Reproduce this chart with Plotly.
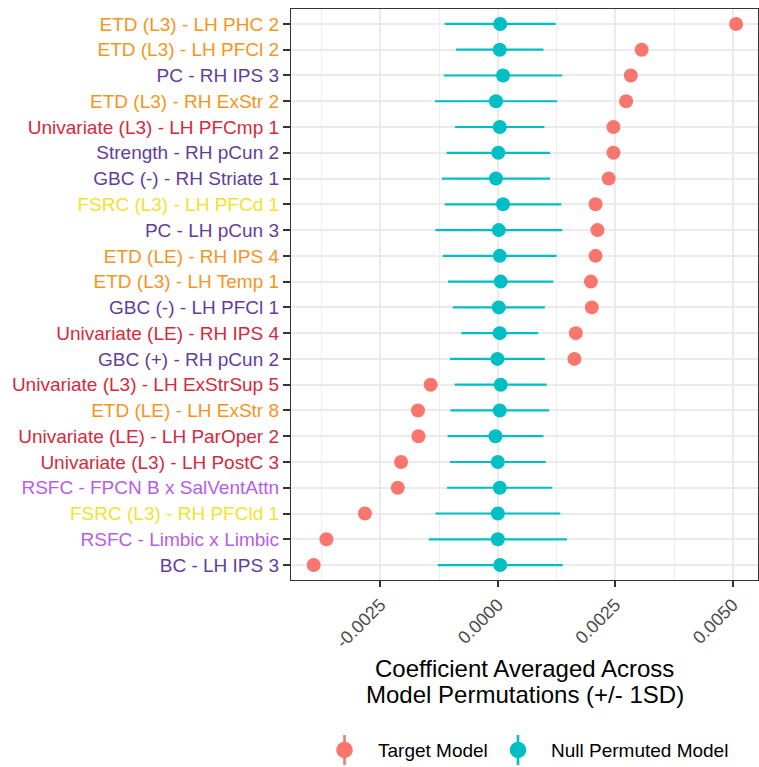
import plotly.graph_objects as go

# Features, listed top to bottom
features = [
    "ETD (L3) - LH PHC 2",
    "ETD (L3) - LH PFCl 2",
    "PC - RH IPS 3",
    "ETD (L3) - RH ExStr 2",
    "Univariate (L3) - LH PFCmp 1",
    "Strength - RH pCun 2",
    "GBC (-) - RH Striate 1",
    "FSRC (L3) - LH PFCd 1",
    "PC - LH pCun 3",
    "ETD (LE) - RH IPS 4",
    "ETD (L3) - LH Temp 1",
    "GBC (-) - LH PFCl 1",
    "Univariate (LE) - RH IPS 4",
    "GBC (+) - RH pCun 2",
    "Univariate (L3) - LH ExStrSup 5",
    "ETD (LE) - LH ExStr 8",
    "Univariate (LE) - LH ParOper 2",
    "Univariate (L3) - LH PostC 3",
    "RSFC - FPCN B x SalVentAttn",
    "FSRC (L3) - RH PFCld 1",
    "RSFC - Limbic x Limbic",
    "BC - LH IPS 3",
]

# Target model coefficients
target_coef = [
    0.00507, 0.00306, 0.00283, 0.00273, 0.00246, 0.00246, 0.00236, 0.00208,
    0.00212, 0.00208, 0.00198, 0.00200, 0.00166, 0.00163, -0.00143, -0.00170,
    -0.00169, -0.00206, -0.00213, -0.00283, -0.00365, -0.00392,
]

# Null permuted model: mean coefficient and 1 SD
null_mean = [
    0.00005, 0.00004, 0.00011, -0.00004, 0.00004, 0.00001, -0.00004, 0.00011,
    0.00002, 0.00004, 0.00006, 0.00002, 0.00004, -0.00001, 0.00006, 0.00004,
    -0.00005, 0.00000, 0.00004, 0.00000, 0.00000, 0.00005,
]
null_sd = [
    0.00118, 0.00093, 0.00126, 0.00130, 0.00095, 0.00110, 0.00115, 0.00124,
    0.00135, 0.00121, 0.00112, 0.00098, 0.00082, 0.00101, 0.00098, 0.00105,
    0.00102, 0.00102, 0.00112, 0.00133, 0.00147, 0.00133,
]

x_tick_vals = [-0.0025, 0.0, 0.0025, 0.0050]
x_tick_text = ["-0.0025", "0.0000", "0.0025", "0.0050"]

# Label colour by feature family
family_colors = {
    "ETD": "#F7941E",
    "Univariate": "#D42A3C",
    "PC": "#623D9E",
    "Strength": "#623D9E",
    "GBC": "#623D9E",
    "BC": "#623D9E",
    "FSRC": "#F2E22E",
    "RSFC": "#B55DEB",
}

TARGET_COLOR = "#F8766D"
NULL_COLOR = "#00BFC4"
FONT = "Liberation Sans, Arial, Helvetica, sans-serif"

W, H = 759, 767
ML, MR, MT, MB = 291, 1, 9, 187
PW, PH = W - ML - MR, H - MT - MB


def px_x(px):
    return (px - ML) / PW


def px_y(py):
    return (H - MB - py) / PH


tick_text = [
    f"<span style='color:{family_colors[f.split(' ')[0]]}'>{f}</span>"
    for f in features
]

fig = go.Figure()

fig.add_trace(go.Scatter(
    x=target_coef, y=features, mode="markers",
    marker=dict(color=TARGET_COLOR, size=14, line=dict(width=0)),
    name="Target Model", showlegend=False,
))

fig.add_trace(go.Scatter(
    x=null_mean, y=features, mode="markers",
    marker=dict(color=NULL_COLOR, size=14, line=dict(width=0)),
    error_x=dict(type="data", array=null_sd, visible=True,
                 color=NULL_COLOR, thickness=2.2, width=0),
    name="Null Permuted Model", showlegend=False,
))

n = len(features)
fig.update_layout(
    width=W, height=H,
    margin=dict(l=ML, r=MR, t=MT, b=MB),
    paper_bgcolor="white", plot_bgcolor="white",
    font=dict(family=FONT, color="black"),
    showlegend=False,
    xaxis=dict(
        range=[-0.004403, 0.005537],
        tickmode="array", tickvals=x_tick_vals, ticktext=x_tick_text,
        tickangle=-45,
        tickfont=dict(size=18, color="#4D4D4D", family=FONT),
        ticks="outside", ticklen=6, tickwidth=1.5, tickcolor="#333333",
        showgrid=True, gridcolor="#EBEBEB", gridwidth=1.5,
        minor=dict(tickmode="array",
                   tickvals=[-0.00375, -0.00125, 0.00125, 0.00375],
                   showgrid=True, gridcolor="#EDEDED", gridwidth=1.2, ticks=""),
        showline=True, mirror=True, linecolor="#333333", linewidth=1.3,
        zeroline=False,
    ),
    yaxis=dict(
        type="category", categoryorder="array", categoryarray=features,
        range=[n - 1 + 0.58, -0.58],
        tickmode="array", tickvals=features, ticktext=tick_text,
        tickfont=dict(size=19, family=FONT),
        ticks="outside", ticklen=7, tickwidth=1.5, tickcolor="#333333",
        showgrid=True, gridcolor="#EBEBEB", gridwidth=1.5,
        showline=True, mirror=True, linecolor="#333333", linewidth=1.3,
        zeroline=False,
    ),
)

# Axis title (two lines)
for text, cy in [("Coefficient Averaged Across", 668),
                 ("Model Permutations (+/- 1SD)", 694)]:
    fig.add_annotation(
        text=text, xref="paper", yref="paper",
        x=0.5, y=px_y(cy), xanchor="center", yanchor="middle",
        showarrow=False, font=dict(size=24, color="black", family=FONT),
    )

# Legend at the bottom: point-range glyphs with labels
legend_items = [("Target Model", TARGET_COLOR, 344.5, 376),
                ("Null Permuted Model", NULL_COLOR, 518, 549)]
ly = 750
for label, color, gx, tx in legend_items:
    fig.add_shape(
        type="line", xref="paper", yref="paper",
        xsizemode="pixel", ysizemode="pixel",
        xanchor=px_x(gx), yanchor=px_y(ly),
        x0=0, x1=0, y0=-15, y1=15,
        line=dict(color=color, width=2.6),
    )
    fig.add_shape(
        type="circle", xref="paper", yref="paper",
        xsizemode="pixel", ysizemode="pixel",
        xanchor=px_x(gx), yanchor=px_y(ly),
        x0=-8.3, x1=8.3, y0=-8.3, y1=8.3,
        fillcolor=color, line=dict(width=0),
    )
    fig.add_annotation(
        text=label, xref="paper", yref="paper",
        x=px_x(tx), y=px_y(ly), xanchor="left", yanchor="middle",
        showarrow=False, font=dict(size=19, color="black", family=FONT),
    )

fig.write_html("out.html")
